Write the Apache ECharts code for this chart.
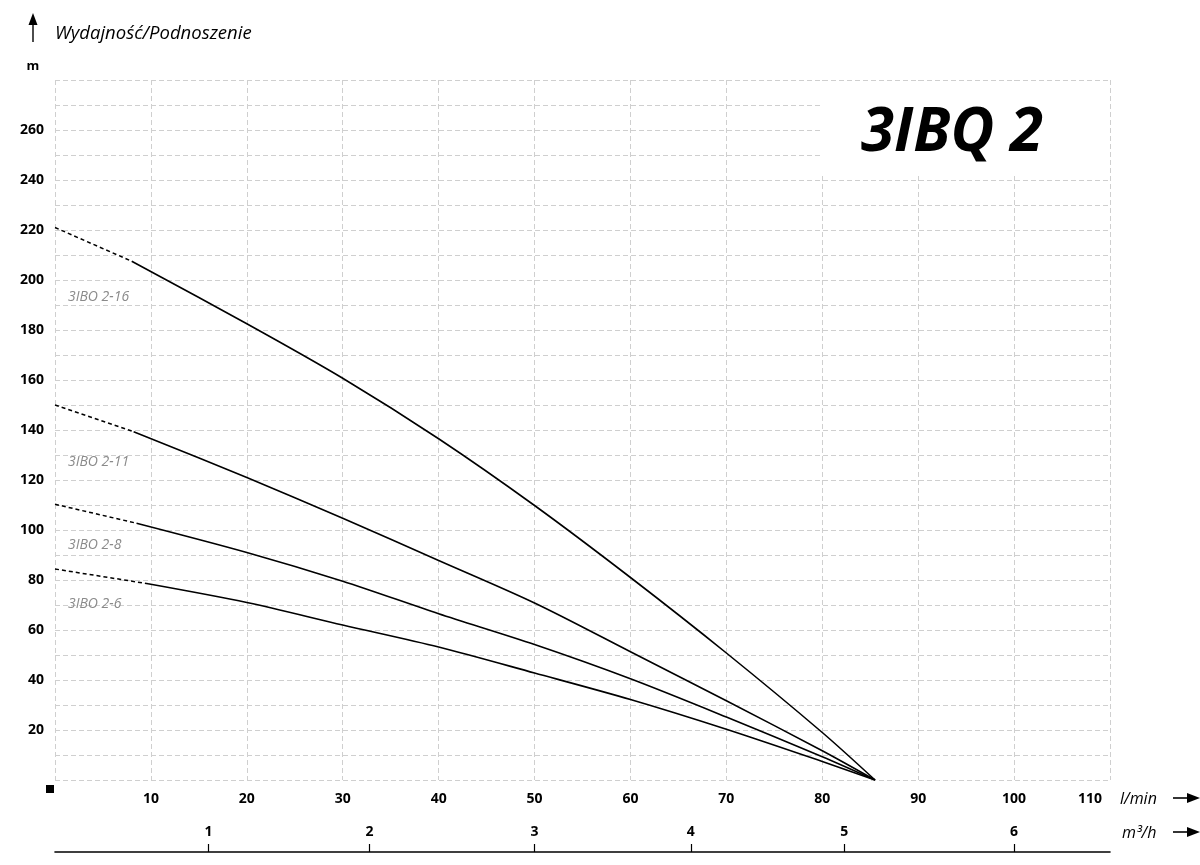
<!DOCTYPE html>
<html>
<head>
<meta charset="utf-8">
<script src="https://cdn.jsdelivr.net/npm/echarts@6/dist/echarts.min.js"></script>
<style>
html,body{margin:0;padding:0;background:#fff;}
#c{width:1200px;height:865px;}
</style>
</head>
<body>
<div id="c"></div>
<script>
// ---- data (flow l/min, head m) ----
const names = ['3IBO 2-16', '3IBO 2-11', '3IBO 2-8', '3IBO 2-6'];
const dashed216 = [[0, 221], [8, 207.5]];
const solid216 = [[8, 207.5], [20, 182.5], [30, 160.7], [40, 136.5], [50, 109.8], [60, 81], [70, 50.8], [80, 19], [85.5, 0]];
const dashed211 = [[0, 150], [8.2, 139.3]];
const solid211 = [[8.2, 139.3], [20, 121], [30, 104.7], [40, 87.8], [50, 70.8], [60, 51.3], [70, 31.7], [80, 11.7], [85.5, 0]];
const dashed28 = [[0, 110.3], [8.5, 102.7]];
const solid28 = [[8.5, 102.7], [20, 91], [30, 79.5], [40, 66.5], [50, 54.2], [60, 40.5], [70, 25.2], [80, 9.3], [85.5, 0]];
const dashed26 = [[0, 84.4], [9.7, 78.5]];
const solid26 = [[9.7, 78.5], [20, 71], [30, 62], [40, 53.2], [50, 42.8], [60, 32.2], [70, 20.3], [80, 7.4], [85.5, 0]];
const labelCoords = [[1.35, 193.2], [1.35, 127.2], [1.35, 94], [1.35, 70.4]];
// ---- axis ticks ----
const flowTicks = [10, 20, 30, 40, 50, 60, 70, 80, 90, 100, 110];
const headTicks = [20, 40, 60, 80, 100, 120, 140, 160, 180, 200, 220, 240, 260];
const m3hLabels = ['1', '2', '3', '4', '5', '6'];
const m3hTickAtFlow = [16, 32.8, 50, 66.3, 82.3, 100];

const chart = echarts.init(document.getElementById('c'));
const gridColor = '#cfcfcf';
const FONT = '"Open Sans", sans-serif';

function lineSeries(data, dashed, labelIdx) {
  const s = {
    type: 'line',
    data: data,
    xAxisIndex: 0,
    yAxisIndex: 0,
    showSymbol: false,
    symbol: 'none',
    smooth: dashed ? false : 0.3,
    lineStyle: { color: '#000', width: dashed ? 1.5 : 1.6, type: dashed ? [4, 3] : 'solid' },
    silent: true,
    z: 5
  };
  if (labelIdx !== undefined) {
    s.markPoint = {
      symbol: 'circle', symbolSize: 0, silent: true,
      data: [{ coord: labelCoords[labelIdx], value: names[labelIdx] }],
      label: {
        show: true, position: 'right', distance: 0,
        formatter: names[labelIdx],
        color: '#8a8a8a', fontStyle: 'italic', fontSize: 14, fontFamily: FONT
      }
    };
  }
  return s;
}

function arrowRight(x, y) {
  return [
    { type: 'line', shape: { x1: x, y1: y, x2: x + 18, y2: y }, style: { stroke: '#000', lineWidth: 1.6 }, z: 20 },
    { type: 'polygon', shape: { points: [[x + 14, y - 5], [x + 27, y], [x + 14, y + 5]] }, style: { fill: '#000' }, z: 20 }
  ];
}

const option = {
  animation: false,
  backgroundColor: '#fff',
  grid: { left: 55, right: 90, top: 80, bottom: 85, containLabel: false },
  xAxis: [
    {
      type: 'value', min: 0, max: 110, interval: 10, position: 'bottom',
      axisLine: { show: false }, axisTick: { show: false },
      splitLine: { show: true, lineStyle: { color: gridColor, type: [5, 3], width: 1 } },
      axisLabel: {
        margin: 12, fontSize: 14, fontWeight: 'bold', color: '#000', fontFamily: FONT,
        formatter: v => {
          if (flowTicks.indexOf(v) < 0) return '';
          return v === 110 ? '{last|' + v + '}' : String(v);
        },
        rich: { last: { fontSize: 14, fontWeight: 'bold', color: '#000', fontFamily: FONT, padding: [0, 40, 0, 0] } }
      }
    },
    {
      type: 'value', min: 0, max: 110, position: 'bottom', offset: 72,
      axisLine: { show: true, onZero: false, lineStyle: { color: '#000', width: 1.6 } },
      axisTick: { show: true, inside: true, length: 8, lineStyle: { color: '#000', width: 1.2 }, customValues: m3hTickAtFlow },
      splitLine: { show: false },
      axisLabel: {
        inside: true, margin: 13, fontSize: 14, fontWeight: 'bold', color: '#000', fontFamily: FONT,
        customValues: m3hTickAtFlow,
        formatter: v => {
          const i = m3hTickAtFlow.indexOf(v);
          return i >= 0 ? m3hLabels[i] : '';
        }
      }
    }
  ],
  yAxis: {
    type: 'value', min: 0, max: 280, interval: 10,
    axisLine: { show: false }, axisTick: { show: false },
    splitLine: { show: true, lineStyle: { color: gridColor, type: [5, 3], width: 1 } },
    axisLabel: {
      margin: 11, fontSize: 14, fontWeight: 'bold', color: '#000', fontFamily: FONT,
      formatter: v => (headTicks.indexOf(v) >= 0 ? String(v) : '')
    }
  },
  series: [
    lineSeries(dashed216, true, 0), lineSeries(solid216, false),
    lineSeries(dashed211, true, 1), lineSeries(solid211, false),
    lineSeries(dashed28, true, 2), lineSeries(solid28, false),
    lineSeries(dashed26, true, 3), lineSeries(solid26, false)
  ],
  graphic: [
    // white box behind big title
    { type: 'rect', shape: { x: 822, y: 81, width: 286, height: 95 }, style: { fill: '#fff' }, z: 10, silent: true },
    { type: 'text', x: 952, y: 134, z: 11, style: { text: '3IBQ 2', fill: '#000', font: 'italic bold 60px "Open Sans", sans-serif', textAlign: 'center', textVerticalAlign: 'middle' } },
    // y-axis title + arrow
    { type: 'line', shape: { x1: 33, y1: 42, x2: 33, y2: 20 }, style: { stroke: '#000', lineWidth: 1.4 }, z: 20 },
    { type: 'polygon', shape: { points: [[28.5, 25], [33, 13], [37.5, 25]] }, style: { fill: '#000' }, z: 20 },
    { type: 'text', x: 55, y: 34, style: { text: 'Wydajność/Podnoszenie', fill: '#000', font: 'italic 18.5px "Open Sans", sans-serif', textVerticalAlign: 'middle' } },
    { type: 'text', x: 33, y: 66, style: { text: 'm', fill: '#000', font: 'bold 13px "Open Sans", sans-serif', textAlign: 'center', textVerticalAlign: 'middle' } },
    // origin square
    { type: 'rect', shape: { x: 46, y: 785, width: 8, height: 8 }, style: { fill: '#000' }, z: 20 },
    // x-axis unit names + arrows
    { type: 'text', x: 1120, y: 799, style: { text: 'l/min', fill: '#000', font: 'italic 16px "Open Sans", sans-serif', textVerticalAlign: 'middle' } },
    { type: 'text', x: 1122, y: 833, style: { text: 'm³/h', fill: '#000', font: 'italic 16px "Open Sans", sans-serif', textVerticalAlign: 'middle' } },
    ...arrowRight(1173, 798),
    ...arrowRight(1173, 832)
  ]
};
chart.setOption(option);
</script>
</body>
</html>
